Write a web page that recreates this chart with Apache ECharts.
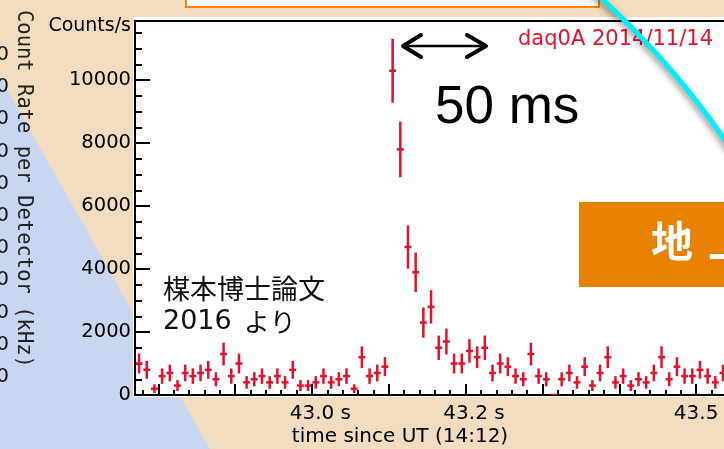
<!DOCTYPE html>
<html>
<head>
<meta charset="utf-8">
<script src="https://cdn.jsdelivr.net/npm/echarts@6/dist/echarts.min.js"></script>
<style>
  html, body { margin: 0; padding: 0; background: #f1dcbf; }
  #chart { width: 724px; height: 449px; }
</style>
</head>
<body>
<div id="chart"></div>
<script>
// Light curve: 10 ms bins, seconds since UT 14:12
const binTimes = [
  42.775, 42.785, 42.795, 42.805, 42.815, 42.825, 42.835, 42.845, 42.855, 42.865,
  42.875, 42.885, 42.895, 42.905, 42.915, 42.925, 42.935, 42.945, 42.955, 42.965,
  42.975, 42.985, 42.995, 43.005, 43.015, 43.025, 43.035, 43.045, 43.055, 43.065,
  43.075, 43.085, 43.095, 43.105, 43.115, 43.125, 43.135, 43.145, 43.155, 43.165,
  43.175, 43.185, 43.195, 43.205, 43.215, 43.225, 43.235, 43.245, 43.255, 43.265,
  43.275, 43.285, 43.295, 43.305, 43.315, 43.325, 43.335, 43.345, 43.355, 43.365,
  43.375, 43.385, 43.395, 43.405, 43.415, 43.425, 43.435, 43.445, 43.455, 43.465,
  43.475, 43.485, 43.495, 43.505, 43.515, 43.525, 43.535
];
const countRates = [
  1000, 800, 200, 600, 700, 300, 700, 600, 700, 800,
  500, 1300, 600, 1000, 400, 500, 600, 400, 600, 400,
  800, 300, 300, 400, 600, 400, 500, 600, 200, 1200,
  600, 700, 900, 10300, 7800, 4700, 3900, 2300, 2800, 1500,
  1700, 1000, 1000, 1400, 1200, 1500, 700, 1000, 900, 600,
  500, 1300, 600, 500, 0, 500, 700, 400, 900, 300,
  700, 1200, 400, 600, 300, 500, 400, 700, 1200, 500,
  900, 600, 600, 800, 600, 400, 700
];
const binWidth = 0.01; // s

// Axis ticks and labels
const yMajorTicks = [0, 2000, 4000, 6000, 8000, 10000];
const yMinorTicks = [0, 500, 1000, 1500, 2000, 2500, 3000, 3500, 4000, 4500, 5000, 5500,
                     6000, 6500, 7000, 7500, 8000, 8500, 9000, 9500, 10000, 10500, 11000, 11500];
const xMajorTicks = [42.8, 42.9, 43.0, 43.1, 43.2, 43.3, 43.4, 43.5];
const xMinorTicks = [42.78, 42.80, 42.82, 42.84, 42.86, 42.88, 42.90, 42.92, 42.94, 42.96, 42.98,
                     43.00, 43.02, 43.04, 43.06, 43.08, 43.10, 43.12, 43.14, 43.16, 43.18,
                     43.20, 43.22, 43.24, 43.26, 43.28, 43.30, 43.32, 43.34, 43.36, 43.38,
                     43.40, 43.42, 43.44, 43.46, 43.48, 43.50, 43.52];
const xLabelTicks = [43.0, 43.2, 43.5];
const xRange = [42.7697, 43.5363];
const yRange = [0, 11880];

// Poisson error of each bin: sqrt(N) / dt with N = rate * dt
const points = binTimes.map((t, i) => {
  const r = countRates[i];
  return [t, r, Math.sqrt(r * binWidth) / binWidth];
});

const RED = '#e5102c';
const FAMILY = 'DejaVu Sans';
const FONT = '"DejaVu Sans", sans-serif';
const CJK = '"Noto Sans CJK JP", sans-serif';

const chart = echarts.init(document.getElementById('chart'), null, { renderer: 'canvas' });

function axisBase(extent) {
  return {
    type: 'value', min: extent[0], max: extent[1], gridIndex: 0,
    splitLine: { show: false }, axisPointer: { show: false }
  };
}

const leftZeros = [55, 87, 119, 152, 184, 216, 248, 280, 313, 345, 377].map(y => ({
  type: 'text', z: 50, x: 9, y: y,
  style: { text: '0', font: '20px ' + FONT, fill: '#111', align: 'right', verticalAlign: 'middle' }
}));

const option = {
  backgroundColor: '#f1dcbf',
  animation: false,
  grid: { left: 135, top: 21, right: 0, bottom: 54, containLabel: false, outerBoundsMode: 'none' },
  xAxis: [
    Object.assign(axisBase(xRange), {
      position: 'bottom',
      axisLine: { show: true, onZero: false, lineStyle: { color: '#000', width: 2 } },
      axisTick: { show: true, inside: true, length: 11, customValues: xMajorTicks,
                  lineStyle: { color: '#000', width: 2 } },
      axisLabel: {
        show: true, customValues: xLabelTicks, margin: 9,
        fontFamily: FAMILY, fontSize: 20, color: '#000',
        formatter: v => '{h|s }{v|' + v.toFixed(1) + ' s}',
        rich: {
          h: { color: 'rgba(0,0,0,0)', fontFamily: FAMILY, fontSize: 20 },
          v: { color: '#000', fontFamily: FAMILY, fontSize: 20 }
        }
      }
    }),
    Object.assign(axisBase(xRange), {
      position: 'bottom',
      axisLine: { show: false, onZero: false },
      axisTick: { show: true, inside: true, length: 5, customValues: xMinorTicks,
                  lineStyle: { color: '#000', width: 2 } },
      axisLabel: { show: false }
    })
  ],
  yAxis: [
    Object.assign(axisBase(yRange), {
      position: 'left',
      axisLine: { show: true, onZero: false, lineStyle: { color: '#000', width: 2 } },
      axisTick: { show: true, inside: true, length: 15, customValues: yMajorTicks,
                  lineStyle: { color: '#000', width: 2 } },
      axisLabel: { show: true, customValues: yMajorTicks, margin: 4,
                   fontFamily: FAMILY, fontSize: 19.5, color: '#000',
                   formatter: v => '{v|' + v + '}',
                   rich: { v: { fontFamily: FAMILY, fontSize: 19.5, color: '#000' } } }
    }),
    Object.assign(axisBase(yRange), {
      position: 'left',
      axisLine: { show: false, onZero: false },
      axisTick: { show: true, inside: true, length: 7, customValues: yMinorTicks,
                  lineStyle: { color: '#000', width: 2 } },
      axisLabel: { show: false }
    })
  ],
  series: [{
    type: 'custom',
    name: 'daq0A',
    xAxisIndex: 0, yAxisIndex: 0,
    clip: true,
    data: points,
    renderItem: function (params, api) {
      const t = api.value(0), v = api.value(1), e = api.value(2);
      const hw = binWidth * 0.45;
      const top = api.coord([t, v + e]);
      const bot = api.coord([t, v - e]);
      const l = api.coord([t - hw, v]);
      const r = api.coord([t + hw, v]);
      const style = { stroke: RED, lineWidth: 2.5 };
      return {
        type: 'group',
        children: [
          { type: 'line', shape: { x1: top[0], y1: top[1], x2: bot[0], y2: bot[1] }, style: style },
          { type: 'line', shape: { x1: l[0], y1: l[1], x2: r[0], y2: r[1] }, style: style }
        ]
      };
    }
  }],
  graphic: [
    // slide backdrop
    { type: 'polygon', z: -100, shape: { points: [[0, 77], [210, 449], [0, 449]] },
      style: { fill: '#c9d6ef' } },
    // plot panel
    { type: 'rect', z: -50, shape: { x: 133, y: 17, width: 600, height: 380 }, style: { fill: '#fff' } },
    { type: 'line', z: 5, shape: { x1: 134, y1: 21, x2: 724, y2: 21 },
      style: { stroke: '#000', lineWidth: 2 } },
    // box at the top edge
    { type: 'rect', z: 50, shape: { x: 186, y: -10, width: 413, height: 17 },
      style: { fill: '#fff', stroke: '#ff8200', lineWidth: 2 } },
    // axis titles
    { type: 'text', z: 50, x: 131, y: 26,
      style: { text: 'Counts/s', font: '19px ' + FONT, fill: '#000', align: 'right', verticalAlign: 'middle' } },
    { type: 'text', z: 50, x: 400, y: 437,
      style: { text: 'time since UT (14:12)', font: '20px ' + FONT, fill: '#000', align: 'center', verticalAlign: 'middle' } },
    { type: 'text', z: 50, x: 713, y: 40,
      style: { text: 'daq0A 2014/11/14', font: '21px ' + FONT, fill: RED, align: 'right', verticalAlign: 'middle' } },
    // 50 ms scale
    { type: 'line', z: 60, shape: { x1: 404, y1: 46, x2: 485, y2: 46 },
      style: { stroke: '#000', lineWidth: 2.5 } },
    { type: 'polyline', z: 60, shape: { points: [[421, 35], [403, 46], [421, 57]] },
      style: { stroke: '#000', lineWidth: 4, lineCap: 'round', lineJoin: 'round', fill: null } },
    { type: 'polyline', z: 60, shape: { points: [[467, 35], [486, 46], [467, 57]] },
      style: { stroke: '#000', lineWidth: 4, lineCap: 'round', lineJoin: 'round', fill: null } },
    { type: 'text', z: 60, x: 435, y: 108,
      style: { text: '50 ms', font: '53px "Liberation Sans", Arial, sans-serif', fill: '#000',
               align: 'left', verticalAlign: 'middle' } },
    // citation
    { type: 'text', z: 60, x: 163, y: 289,
      style: { text: '楳本博士論文', font: '27px ' + CJK, fill: '#111',
               align: 'left', verticalAlign: 'middle' } },
    { type: 'text', z: 60, x: 163, y: 322,
      style: { text: '{d|2016}{k|より}', align: 'left', verticalAlign: 'middle',
               rich: {
                 d: { fontFamily: FAMILY, fontSize: 27, fill: '#111' },
                 k: { fontFamily: 'Noto Sans CJK JP', fontSize: 26, fill: '#111', padding: [0, 0, 0, 12] }
               } } },
    // side panel label
    { type: 'text', z: 50, x: 23, y: 10, rotation: -Math.PI / 2,
      style: { text: 'Count Rate per Detector (kHz)', font: '20.5px "DejaVu Sans Mono", monospace',
               fill: '#222', align: 'left', verticalAlign: 'middle' } },
    ...leftZeros,
    // orange label box
    { type: 'rect', z: 70, shape: { x: 579, y: 202, width: 160, height: 85 }, style: { fill: '#e88000' } },
    { type: 'text', z: 71, x: 651, y: 241,
      style: { text: '地', font: 'bold 42px ' + CJK, fill: '#fff',
               align: 'left', verticalAlign: 'middle' } },
    { type: 'text', z: 71, x: 708, y: 241,
      style: { text: '上', font: 'bold 42px ' + CJK, fill: '#fff',
               align: 'left', verticalAlign: 'middle' } },
    // cyan lens rim
    { type: 'arc', z: 90,
      shape: { cx: 38, cy: 615, r: 835, startAngle: -0.92, endAngle: -0.5, clockwise: true },
      style: { stroke: '#00eef8', lineWidth: 5, fill: null,
               shadowBlur: 6, shadowColor: 'rgba(0,0,0,0.45)', shadowOffsetX: -2, shadowOffsetY: 2 } }
  ]
};

chart.setOption(option);
</script>
</body>
</html>
